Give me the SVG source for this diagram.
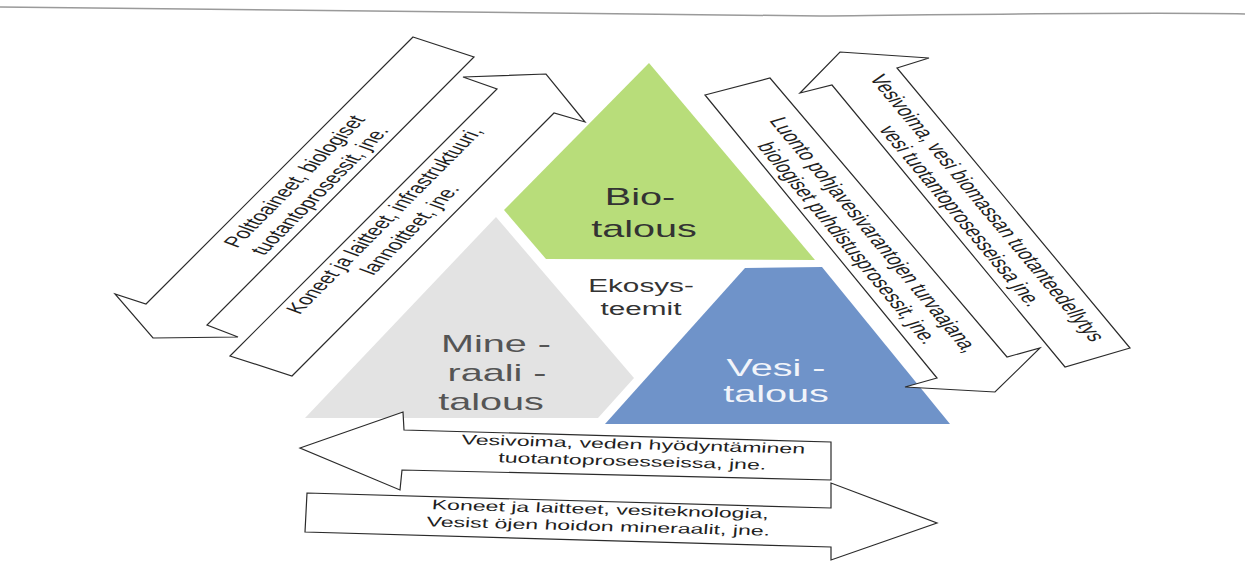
<svg xmlns="http://www.w3.org/2000/svg" width="1245" height="562" viewBox="0 0 1245 562">
<defs>
<style>
.arrow{fill:#ffffff;stroke:#2b2b2b;stroke-width:1.2;stroke-linejoin:miter}
.t{font-family:"Liberation Sans",Arial,sans-serif;fill:#1f1f1f}
.dt{font-size:15px}
.bt{font-size:14px}
.big{font-size:24px}
.eco{font-size:18px;fill:#333333}
</style>
</defs>
<rect x="0" y="0" width="1245" height="562" fill="#ffffff"/>
<path d="M0,7 C300,9 600,12 820,16 C1000,14 1150,12 1245,14" fill="none" stroke="#9a9a9a" stroke-width="1.5"/>

<g id="tri-bio">
<polygon points="649,63 504,210 546,259 815,260" fill="#b8dd7a"/>
<text class="t big" text-anchor="middle" transform="translate(640,205) scale(1.65,1)" style="fill:#333">Bio-</text>
<text class="t big" text-anchor="middle" transform="translate(644,237) scale(1.65,1)" style="fill:#333">talous</text>
</g>

<g id="tri-mineraali">
<polygon points="496,217 305,418 598,418 634,378" fill="#e3e3e3"/>
<text class="t big" text-anchor="middle" transform="translate(496,352) scale(1.65,1)" style="fill:#555">Mine -</text>
<text class="t big" text-anchor="middle" transform="translate(497,381) scale(1.65,1)" style="fill:#555">raali -</text>
<text class="t big" text-anchor="middle" transform="translate(491,410) scale(1.65,1)" style="fill:#555">talous</text>
</g>

<g id="tri-vesi">
<polygon points="745,268 822,267 950,424 605,424" fill="#6f93c9"/>
<text class="t big" text-anchor="middle" transform="translate(776,376) scale(1.65,1)" style="fill:#f1f4fa">Vesi -</text>
<text class="t big" text-anchor="middle" transform="translate(776,402) scale(1.65,1)" style="fill:#f1f4fa">talous</text>
</g>

<g id="ekosysteemit">
<text class="t eco" text-anchor="middle" transform="translate(641,292) scale(1.65,1)">Ekosys-</text>
<text class="t eco" text-anchor="middle" transform="translate(641,315) scale(1.65,1)">teemit</text>
</g>

<g id="connectors">
<g id="arrow-polttoaineet">
<polygon class="arrow" points="413,37 474,57 207,325 238,337 153,338 115,294 146,304"/>
<text class="t dt" text-anchor="middle" transform="translate(307,186) scale(1.65,1) rotate(-58.8)"><tspan x="0" y="-4">Polttoaineet, biologiset</tspan><tspan x="0" y="14">tuotantoprosessit, jne.</tspan></text>
</g>
<g id="arrow-koneet">
<polygon class="arrow" points="230,356 497,89 463,77 546,74 585,122 554,113 292,376"/>
<text class="t dt" text-anchor="middle" transform="translate(397,225) scale(1.65,1) rotate(-58.8)"><tspan x="0" y="-4">Koneet ja laitteet, infrastruktuuri,</tspan><tspan x="0" y="14">lannoitteet, jne.</tspan></text>
</g>
<g id="arrow-luonto">
<polygon class="arrow" points="705,95 770,78 1007,357 1040,348 995,392 905,387 937,378"/>
<text class="t dt" text-anchor="middle" transform="translate(861,239) scale(1.65,1) rotate(63)"><tspan x="0" y="-4">Luonto pohjavesivarantojen turvaajana,</tspan><tspan x="0" y="14">biologiset puhdistusprosessit, jne.</tspan></text>
</g>
<g id="arrow-vesivoima-bio">
<polygon class="arrow" points="840,52 929,58 897,68 1130,348 1065,367 832,85 800,93"/>
<text class="t dt" text-anchor="middle" transform="translate(974,212) scale(1.65,1) rotate(63)"><tspan x="0" y="-4">Vesivoima, vesi biomassan tuotanteedellytys</tspan><tspan x="0" y="14">vesi tuotantoprosesseissa jne.</tspan></text>
</g>
<g id="arrow-vesivoima-mineraali">
<polygon class="arrow" points="300,448 403,412 404,430 831,442 831,480 402,470 400,490"/>
<text class="t bt" text-anchor="middle" transform="translate(633,449) scale(1.65,1) rotate(2.6)">Vesivoima, veden hyödyntäminen</text>
<text class="t bt" text-anchor="middle" transform="translate(632,466) scale(1.65,1) rotate(2.6)">tuotantoprosesseissa, jne.</text>
</g>
<g id="arrow-koneet-vesi">
<polygon class="arrow" points="307,493 831,508 831,483 937,523 831,560 831,547 305,532"/>
<text class="t bt" text-anchor="middle" transform="translate(600,514) scale(1.65,1) rotate(2.6)">Koneet ja laitteet, vesiteknologia,</text>
<text class="t bt" text-anchor="middle" transform="translate(598,531) scale(1.65,1) rotate(2.6)">Vesist öjen hoidon mineraalit, jne.</text>
</g>
</g>
</svg>
